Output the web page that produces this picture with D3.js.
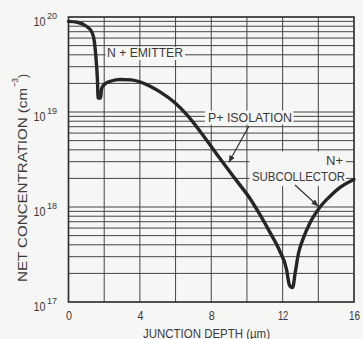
<!DOCTYPE html>
<html>
<head>
<meta charset="utf-8">
<script src="https://cdn.jsdelivr.net/npm/d3@7"></script>
<style>
  html, body { margin: 0; padding: 0; background: #f6f6f4; }
  svg { display: block; }
  text { font-family: "Liberation Sans Narrow", "Liberation Sans", Arial, sans-serif; fill: #3a3a3a; }
</style>
</head>
<body>
<svg id="chart" width="363" height="339"></svg>
<script>
// Doping profile: net concentration versus junction depth
const depth = [0, 0.5, 1.0, 1.3, 1.45, 1.55, 1.62, 1.66, 1.8, 1.85, 2.0, 2.4, 2.9, 3.5, 4.0, 4.6,
  5.15, 5.9, 6.64, 7.39, 8.13, 8.8, 9.45, 10.17, 10.73, 11.29, 11.85, 12.22, 12.36, 12.45,
  12.56, 12.7, 12.88, 13.16, 13.53, 14.1, 14.66, 15.2, 16];
const concentration = [9.0e19, 8.8e19, 8.0e19, 7.0e19, 5.5e19, 3.5e19, 2.2e19, 1.4e19, 1.4e19, 1.75e19,
  1.95e19, 2.12e19, 2.2e19, 2.18e19, 2.08e19, 1.86e19,
  1.62e19, 1.28e19, 9.3e18, 6.2e18, 4.0e18, 2.7e18, 1.86e18, 1.23e18, 8.3e17, 5.4e17, 3.4e17, 2.2e17, 1.55e17, 1.45e17,
  1.42e17, 2.0e17, 3.2e17, 4.7e17, 6.8e17, 1.0e18, 1.3e18, 1.6e18, 1.95e18];

const xTicks = [0, 4, 8, 12, 16];
const xTickWidths = [6, 6, 6, 10.5, 11];
const yDecades = [1e17, 1e18, 1e19, 1e20];
const yExponents = ["17", "18", "19", "20"];

const svg = d3.select("#chart");
const plotLeft = 68.5, plotRight = 354, plotTop = 17, plotBottom = 302;

const x = d3.scaleLinear().domain([0, 16]).range([plotLeft, plotRight]);
const y = d3.scaleLog().domain([1e17, 1e20]).range([plotBottom, plotTop]);

// grid
const grid = svg.append("g").attr("stroke", "#444").attr("stroke-width", 1).attr("fill", "none");
d3.range(2, 16, 2).forEach(v => {
  grid.append("line").attr("x1", x(v)).attr("x2", x(v)).attr("y1", plotTop).attr("y2", plotBottom);
});
const minor = [];
[1e17, 1e18, 1e19].forEach(d => {
  for (let m = 1; m <= 9; m++) {
    const v = d * m;
    if (v > 1e17 && v < 1e20) minor.push(v);
  }
});
minor.forEach(v => {
  grid.append("line").attr("x1", plotLeft).attr("x2", plotRight).attr("y1", y(v)).attr("y2", y(v));
});

// label backgrounds that clear the grid
const bg = "#f6f6f4";
const boxes = [
  [105.5, 47, 185, 60],
  [205, 110.5, 293.5, 124.5],
  [249.5, 151.5, 346, 186]
];
boxes.forEach(b => {
  svg.append("rect").attr("x", b[0]).attr("y", b[1])
    .attr("width", b[2] - b[0]).attr("height", b[3] - b[1]).attr("fill", bg);
});

// frame
svg.append("rect").attr("x", plotLeft).attr("y", plotTop)
  .attr("width", plotRight - plotLeft).attr("height", plotBottom - plotTop)
  .attr("fill", "none").attr("stroke", "#333").attr("stroke-width", 1.7);

// x axis labels
const xAxis = d3.axisBottom(x).tickValues(xTicks).tickSize(0).tickFormat(d3.format("d"));
const gx = svg.append("g").attr("transform", `translate(0,${plotBottom})`).call(xAxis);
gx.select(".domain").remove();
gx.attr("font-family", null).attr("font-size", null);
gx.selectAll("text")
  .attr("y", 18).attr("dy", null)
  .attr("font-size", 13.5)
  .attr("fill", "#3a3a3a")
  .attr("textLength", (d, i) => xTickWidths[i])
  .attr("lengthAdjust", "spacingAndGlyphs");

// y axis labels as 10 with superscript exponent
const yAxis = d3.axisLeft(y).tickValues(yDecades).tickSize(0).tickFormat("");
const gy = svg.append("g").attr("transform", `translate(${plotLeft},0)`).call(yAxis);
gy.select(".domain").remove();
gy.attr("font-family", null).attr("font-size", null).attr("text-anchor", null);
gy.selectAll(".tick").each(function (d, i) {
  const t = d3.select(this);
  t.selectAll("text").remove();
  t.append("text").text("10")
    .attr("x", -35).attr("y", 8)
    .attr("text-anchor", "start")
    .attr("font-size", 13.5)
    .attr("fill", "#3a3a3a")
    .attr("textLength", 12).attr("lengthAdjust", "spacingAndGlyphs");
  t.append("text").text(yExponents[i])
    .attr("x", -21.5).attr("y", 1)
    .attr("text-anchor", "start")
    .attr("font-size", 9.5)
    .attr("fill", "#3a3a3a")
    .attr("textLength", 10).attr("lengthAdjust", "spacingAndGlyphs");
});

// axis titles
svg.append("text").text("JUNCTION DEPTH (\u00b5m)")
  .attr("x", 143).attr("y", 337.5)
  .attr("font-size", 12.5)
  .attr("textLength", 127).attr("lengthAdjust", "spacingAndGlyphs");

const yTitle = svg.append("g").attr("transform", "translate(26.5,282) rotate(-90)");
yTitle.append("text").text("NET CONCENTRATION (cm")
  .attr("x", 0).attr("y", 0).attr("font-size", 13.5)
  .attr("textLength", 194).attr("lengthAdjust", "spacingAndGlyphs");
yTitle.append("text").text("\u22123")
  .attr("x", 195).attr("y", -9).attr("font-size", 9.5)
  .attr("textLength", 9).attr("lengthAdjust", "spacingAndGlyphs");
yTitle.append("text").text(")")
  .attr("x", 204).attr("y", 0).attr("font-size", 13.5)
  .attr("textLength", 4).attr("lengthAdjust", "spacingAndGlyphs");

// region labels
const labels = [
  { t: "N + EMITTER", x: 107, y: 57, w: 76 },
  { t: "P+ ISOLATION", x: 208, y: 121.5, w: 84 },
  { t: "N+", x: 326, y: 164.5, w: 17 },
  { t: "SUBCOLLECTOR", x: 252, y: 181, w: 93 }
];
labels.forEach(l => {
  svg.append("text").text(l.t)
    .attr("x", l.x).attr("y", l.y)
    .attr("font-size", 12.5)
    .attr("textLength", l.w).attr("lengthAdjust", "spacingAndGlyphs");
});

// leader arrows
svg.append("defs").append("marker")
  .attr("id", "head").attr("viewBox", "0 0 10 10")
  .attr("refX", 9).attr("refY", 5)
  .attr("markerWidth", 6).attr("markerHeight", 6)
  .attr("orient", "auto")
  .append("path").attr("d", "M0,1 L10,5 L0,9 Z").attr("fill", "#333");
const leaders = [
  [249, 126, 229, 162],
  [295, 185, 318, 206]
];
leaders.forEach(a => {
  svg.append("line").attr("x1", a[0]).attr("y1", a[1]).attr("x2", a[2]).attr("y2", a[3])
    .attr("stroke", "#333").attr("stroke-width", 1.2).attr("marker-end", "url(#head)");
});

// profile curve
const pts = depth.map((d, i) => [d, concentration[i]]);
const line = d3.line().x(p => x(p[0])).y(p => y(p[1])).curve(d3.curveMonotoneX);
svg.append("path").datum(pts).attr("d", line)
  .attr("fill", "none").attr("stroke", "#262626").attr("stroke-width", 3.4)
  .attr("stroke-linejoin", "round").attr("stroke-linecap", "round");
</script>
</body>
</html>
